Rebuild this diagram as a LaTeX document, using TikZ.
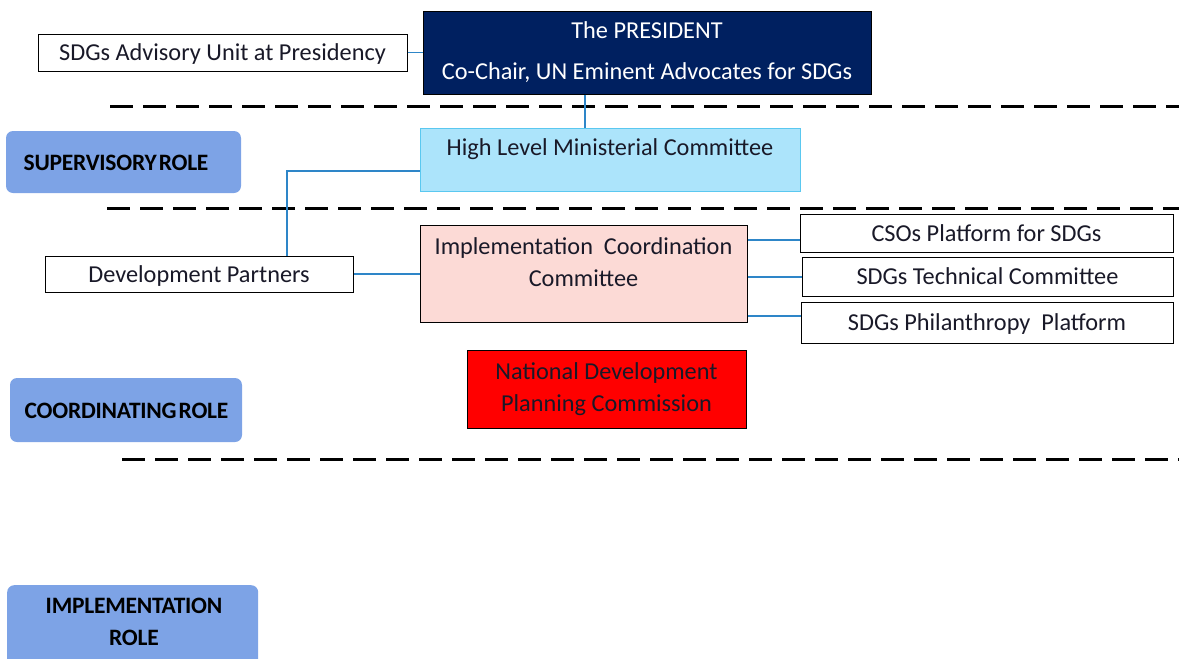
\documentclass[tikz,border=0pt]{standalone}
\usepackage{fontspec}
\setmainfont{Carlito}
\newfontfamily\rolefont[LetterSpace=-1,WordSpace=0.4]{Carlito}
\definecolor{navy}{RGB}{0,32,96}
\definecolor{hlmcfill}{RGB}{172,228,251}
\definecolor{hlmcdraw}{RGB}{90,200,240}
\definecolor{iccfill}{RGB}{252,218,214}
\definecolor{rolefill}{RGB}{125,163,230}
\definecolor{linkc}{RGB}{46,134,200}
\definecolor{txt}{RGB}{25,25,40}
\begin{document}
\begin{tikzpicture}[x=1pt,y=-1pt,
  box/.style={draw=black, line width=1pt, fill=white, inner sep=0pt, text=txt,
    text height=16pt, text depth=0pt, font=\fontsize{24.3}{28}\selectfont},
  rolebox/.style={fill=rolefill, rounded corners=7pt, inner sep=0pt},
  roletext/.style={inner sep=0pt, text=black, align=center,
    font=\rolefont\bfseries\fontsize{23.5}{32}\selectfont},
  link/.style={draw=linkc, line width=1.2pt},
  sep/.style={draw=black, line width=3pt, dash pattern=on 23pt off 10pt},
  lbl/.style={inner sep=0pt, text=txt, font=\fontsize{24.3}{32}\selectfont, align=center}]
\useasboundingbox (0,0) rectangle (1179,659);

% dashed separators
\coordinate (s1a) at (110,106); \coordinate (s1b) at (1179,106);
\coordinate (s2a) at (107,208); \coordinate (s2b) at (1179,208);
\coordinate (s3a) at (122,459); \coordinate (s3b) at (1179,459);
\draw[sep] (s1a) -- (s1b);
\draw[sep] (s2a) -- (s2b);
\draw[sep] (s3a) -- (s3b);

% role boxes
\node[rolebox, minimum width=235, minimum height=62] (sup) at (123.5,162) {};
\node[roletext] (supt) at (116,162.5) {SUPERVISORY ROLE};
\node[rolebox, minimum width=232, minimum height=64] (coo) at (126,410) {};
\node[roletext] (coot) at (126.5,410.5) {COORDINATING ROLE};
\node[rolebox, minimum width=251, minimum height=90, anchor=north west] (imp) at (7,585) {};
\node[roletext] (impt) at (134,622) {IMPLEMENTATION\\ROLE};

% president
\node[box, fill=navy, text=white, minimum width=448, minimum height=83, align=center,
  text height=, text depth=, font=\fontsize{24.3}{41}\selectfont] (pres) at (647,52.5) {The PRESIDENT\\Co-Chair, UN Eminent Advocates for SDGs};
\node[box, minimum width=369, minimum height=37] (adv) at (222.5,52.5) {SDGs Advisory Unit at Presidency};

% HLMC
\node[box, fill=hlmcfill, draw=hlmcdraw, minimum width=380, minimum height=63] (hlmc) at (610,159.5) {};
\node[lbl] (hlmct) at (610,149) {High Level Ministerial Committee};

% ICC
\node[box, fill=iccfill, minimum width=327, minimum height=97] (icc) at (583.5,273.5) {};
\node[lbl] (icct) at (583.5,262) {Implementation~~Coordination\\Committee};

% development partners
\node[box, minimum width=308, minimum height=36] (dp) at (199,274) {Development Partners};

% right side boxes
\node[box, minimum width=373, minimum height=38] (cso) at (986.5,233) {CSOs Platform for SDGs};
\node[box, minimum width=371, minimum height=39] (tech) at (987.5,276.5) {SDGs Technical Committee};
\node[box, minimum width=372, minimum height=41] (phil) at (987,322.5) {SDGs Philanthropy~~Platform};

% NDPC
\node[box, fill=red, minimum width=279, minimum height=78, align=center,
  text height=, text depth=, font=\fontsize{24.3}{32}\selectfont] (ndpc) at (606.5,389) {National Development\\Planning Commission};

% connectors
\draw[link] (adv.east) -- (adv.east -| pres.west);
\draw[link] (pres.south -| 585,0) -- (hlmc.north -| 585,0);
\draw[link] (hlmc.west |- 0,171) -| (dp.north -| 287,0);
\draw[link] (icc.west |- dp.east) -- (dp.east);
\draw[link] (icc.east |- 0,240) -- (cso.west |- 0,240);
\draw[link] (icc.east |- 0,277) -- (tech.west |- 0,277);
\draw[link] (icc.east |- 0,316) -- (phil.west |- 0,316);
\end{tikzpicture}
\end{document}
